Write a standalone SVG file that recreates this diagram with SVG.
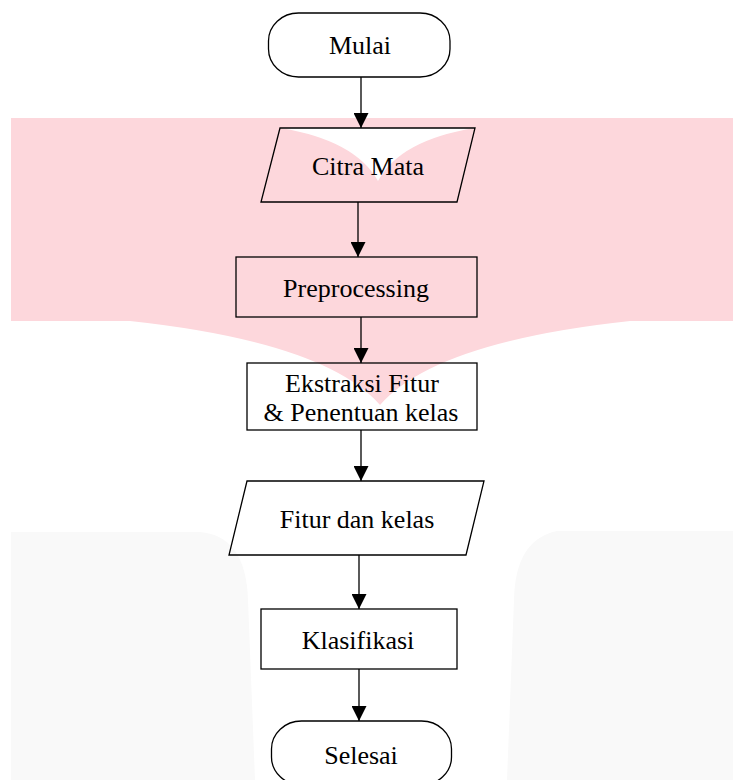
<svg xmlns="http://www.w3.org/2000/svg" width="733" height="780" viewBox="0 0 733 780">
<style>
.shape{fill:none;stroke:#000;stroke-width:1.3}
.conn{stroke:#000;stroke-width:1.3;fill:none}
text{font-family:"Liberation Serif","Times New Roman",serif;font-size:26px;fill:#000;text-anchor:middle}
.wm{fill:#fdd7dc}
.gray{fill:#f9f9f9}
</style>
<defs>
<marker id="ah" viewBox="0 0 15 15" refX="15" refY="7.5" markerWidth="15" markerHeight="15" markerUnits="userSpaceOnUse" orient="auto">
<path d="M0,0 L15,7.5 L0,15 Z" fill="#000"/>
</marker>
</defs>
<g id="background">
<rect x="11" y="118" width="722" height="203" class="wm"/>
<path d="M130,321 Q325,342 380,405 Q435,342 630,321 Z" class="wm"/>
<path d="M280,128 L475,128 Q400,140 378,181 Q355,140 280,128 Z" fill="#fff"/>
<path d="M11,532 L200,532 Q246,536 248,600 L255,780 L11,780 Z" class="gray"/>
<path d="M557,531 Q515,540 514,600 L507,780 L733,780 L733,531 Z" class="gray"/>
</g>
<g id="connectors">
<line x1="361" y1="77" x2="361" y2="128" class="conn" marker-end="url(#ah)"/>
<line x1="358" y1="202" x2="358" y2="257" class="conn" marker-end="url(#ah)"/>
<line x1="361" y1="317" x2="361" y2="363" class="conn" marker-end="url(#ah)"/>
<line x1="361" y1="430" x2="361" y2="481" class="conn" marker-end="url(#ah)"/>
<line x1="359" y1="555" x2="359" y2="609" class="conn" marker-end="url(#ah)"/>
<line x1="359" y1="669" x2="359" y2="721" class="conn" marker-end="url(#ah)"/>
</g>
<g id="mulai">
<rect x="268.5" y="13" width="181.5" height="64" rx="30" ry="28" class="shape"/>
<text x="360" y="54">Mulai</text>
</g>
<g id="citra-mata">
<polygon points="280,128 475,128 457,202 261,202" class="shape"/>
<text x="368" y="175">Citra Mata</text>
</g>
<g id="preprocessing">
<rect x="236" y="257" width="241" height="60" class="shape"/>
<text x="356" y="297">Preprocessing</text>
</g>
<g id="ekstraksi">
<rect x="247" y="363" width="230" height="67" class="shape"/>
<text x="362" y="392">Ekstraksi Fitur</text>
<text x="361" y="421">&amp; Penentuan kelas</text>
</g>
<g id="fitur-kelas">
<polygon points="247,481 484,481 466,555 229,555" class="shape"/>
<text x="357" y="528">Fitur dan kelas</text>
</g>
<g id="klasifikasi">
<rect x="261" y="609" width="196" height="60" class="shape"/>
<text x="358" y="649">Klasifikasi</text>
</g>
<g id="selesai">
<rect x="271.5" y="721" width="180" height="64" rx="30" ry="28" class="shape"/>
<text x="361" y="764">Selesai</text>
</g>
</svg>
